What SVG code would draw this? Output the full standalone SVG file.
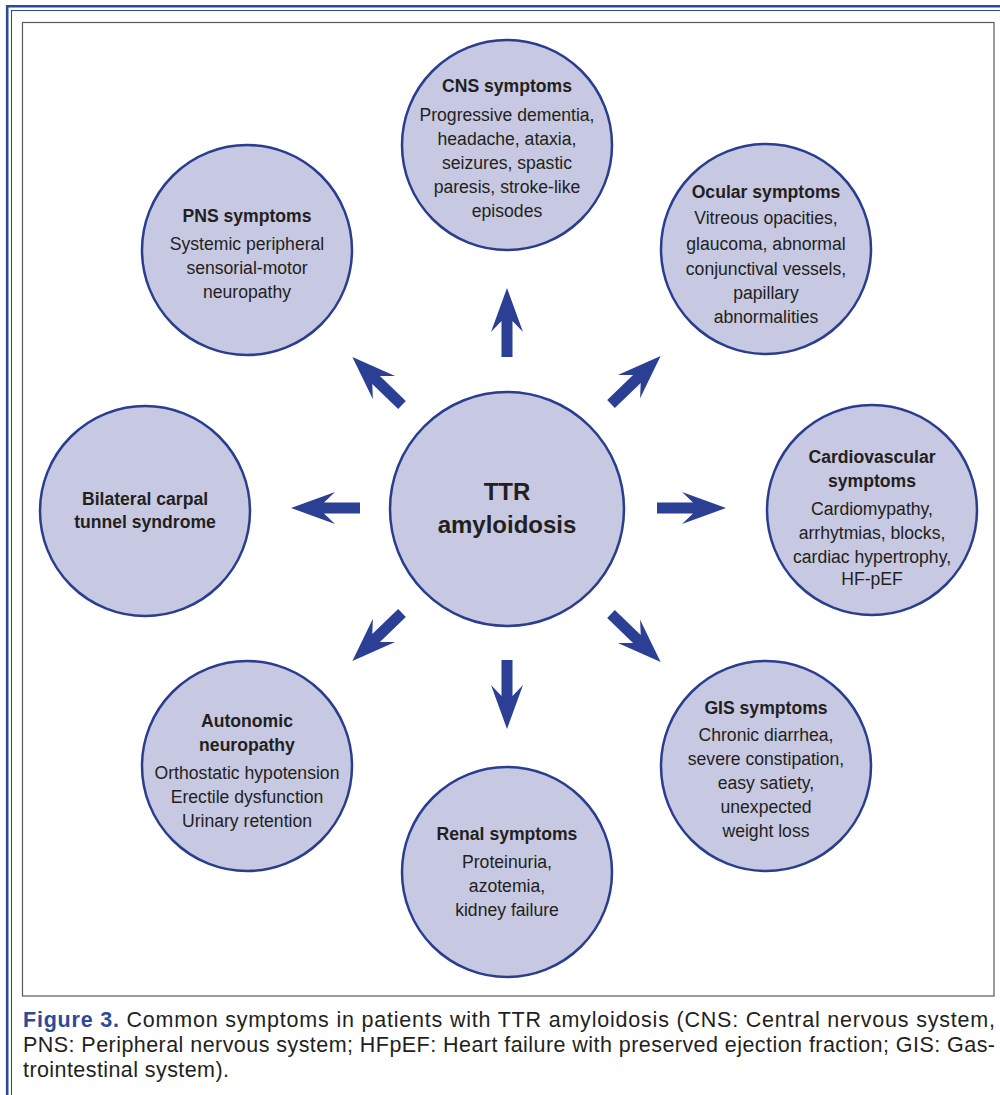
<svg xmlns="http://www.w3.org/2000/svg" width="1000" height="1095" viewBox="0 0 1000 1095">
<style>
.node{fill:#c7c8e1;stroke:#2a3d8f;stroke-width:2.5}
.t{font-family:"Liberation Sans",Arial,sans-serif;font-size:17.6px;fill:#231f20;text-anchor:middle}
.b{font-weight:bold}
.big{font-family:"Liberation Sans",Arial,sans-serif;font-size:24px;font-weight:bold;fill:#231f20;text-anchor:middle}
.cap{font-family:"Liberation Sans",Arial,sans-serif;font-size:21.5px;fill:#231f20}
.arrow{fill:#2b3f94}
</style>
<defs>
<polygon id="arr" points="0,-5.5 36,-5.5 25,-16 69,0 25,16 36,5.5 0,5.5"/>
</defs>
<rect x="0" y="0" width="1000" height="1095" fill="#ffffff"/>
<g id="frame">
<line x1="6" y1="6.2" x2="1000" y2="6.2" stroke="#2b4a9a" stroke-width="2.6"/>
<line x1="11" y1="10.5" x2="1000" y2="10.5" stroke="#2b4a9a" stroke-width="1.1"/>
<line x1="7.2" y1="5" x2="7.2" y2="1095" stroke="#2b4a9a" stroke-width="2.6"/>
<line x1="11.5" y1="10" x2="11.5" y2="1095" stroke="#2b4a9a" stroke-width="1.1"/>
<rect x="22.5" y="22.5" width="971.5" height="973.5" fill="none" stroke="#5a5a5a" stroke-width="1.2"/>
</g>
<g id="connectors">
<use href="#arr" class="arrow" transform="translate(507,357) rotate(-90)"/>
<use href="#arr" class="arrow" transform="translate(657,508)"/>
<use href="#arr" class="arrow" transform="translate(360,508) rotate(180)"/>
<use href="#arr" class="arrow" transform="translate(507,660) rotate(90)"/>
<use href="#arr" class="arrow" transform="translate(611,404) rotate(-44)"/>
<use href="#arr" class="arrow" transform="translate(402,405) rotate(-136)"/>
<use href="#arr" class="arrow" transform="translate(402,613) rotate(136)"/>
<use href="#arr" class="arrow" transform="translate(611,614) rotate(44)"/>
</g>
<g id="ttr">
<circle class="node" cx="507" cy="509" r="117"/>
<text class="big" x="507" y="500">TTR</text>
<text class="big" x="507" y="533">amyloidosis</text>
</g>
<g id="cns">
<circle class="node" cx="507" cy="145" r="105"/>
<text class="t b" x="507" y="92">CNS symptoms</text>
<text class="t" x="507" y="121">Progressive dementia,</text>
<text class="t" x="507" y="145">headache, ataxia,</text>
<text class="t" x="507" y="169">seizures, spastic</text>
<text class="t" x="507" y="193">paresis, stroke-like</text>
<text class="t" x="507" y="217">episodes</text>
</g>
<g id="pns">
<circle class="node" cx="247" cy="250" r="105"/>
<text class="t b" x="247" y="222">PNS symptoms</text>
<text class="t" x="247" y="250">Systemic peripheral</text>
<text class="t" x="247" y="274">sensorial-motor</text>
<text class="t" x="247" y="298">neuropathy</text>
</g>
<g id="ocular">
<circle class="node" cx="766" cy="249" r="105"/>
<text class="t b" x="766" y="198">Ocular symptoms</text>
<text class="t" x="766" y="224">Vitreous opacities,</text>
<text class="t" x="766" y="250">glaucoma, abnormal</text>
<text class="t" x="766" y="275">conjunctival vessels,</text>
<text class="t" x="766" y="299">papillary</text>
<text class="t" x="766" y="323">abnormalities</text>
</g>
<g id="bilateral">
<circle class="node" cx="145" cy="511" r="105"/>
<text class="t b" x="145" y="505">Bilateral carpal</text>
<text class="t b" x="145" y="528">tunnel syndrome</text>
</g>
<g id="cardio">
<circle class="node" cx="872" cy="510" r="105"/>
<text class="t b" x="872" y="463">Cardiovascular</text>
<text class="t b" x="872" y="487">symptoms</text>
<text class="t" x="872" y="515">Cardiomypathy,</text>
<text class="t" x="872" y="539">arrhytmias, blocks,</text>
<text class="t" x="872" y="563">cardiac hypertrophy,</text>
<text class="t" x="872" y="585">HF-pEF</text>
</g>
<g id="gis">
<circle class="node" cx="766" cy="766" r="105"/>
<text class="t b" x="766" y="714">GIS symptoms</text>
<text class="t" x="766" y="741">Chronic diarrhea,</text>
<text class="t" x="766" y="765">severe constipation,</text>
<text class="t" x="766" y="789">easy satiety,</text>
<text class="t" x="766" y="813">unexpected</text>
<text class="t" x="766" y="837">weight loss</text>
</g>
<g id="autonomic">
<circle class="node" cx="247" cy="766" r="105"/>
<text class="t b" x="247" y="727">Autonomic</text>
<text class="t b" x="247" y="751">neuropathy</text>
<text class="t" x="247" y="779">Orthostatic hypotension</text>
<text class="t" x="247" y="803">Erectile dysfunction</text>
<text class="t" x="247" y="827">Urinary retention</text>
</g>
<g id="renal">
<circle class="node" cx="507" cy="872" r="105"/>
<text class="t b" x="507" y="840">Renal symptoms</text>
<text class="t" x="507" y="868">Proteinuria,</text>
<text class="t" x="507" y="892">azotemia,</text>
<text class="t" x="507" y="916">kidney failure</text>
</g>
<g id="caption">
<text class="cap" x="23" y="1027" textLength="972" lengthAdjust="spacing"><tspan font-weight="bold" fill="#2b4a9a">Figure 3.</tspan> Common symptoms in patients with TTR amyloidosis (CNS: Central nervous system,</text>
<text class="cap" x="23" y="1052" textLength="972" lengthAdjust="spacing">PNS: Peripheral nervous system; HFpEF: Heart failure with preserved ejection fraction; GIS: Gas-</text>
<text class="cap" x="23" y="1077" textLength="206" lengthAdjust="spacing">trointestinal system).</text>
</g>
</svg>
